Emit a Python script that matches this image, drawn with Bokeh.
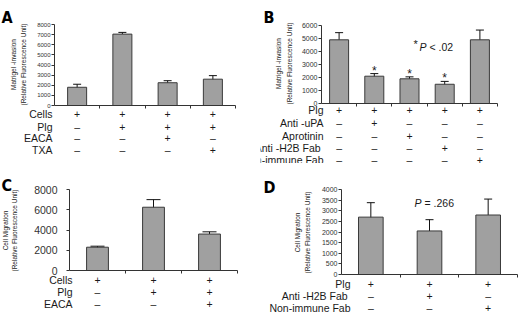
import math
from bokeh.plotting import figure
from bokeh.models import Range1d, FixedTicker, ColumnDataSource, Whisker, TeeHead
from bokeh.layouts import column, row
from bokeh.embed import file_html
from bokeh.resources import INLINE
from bokeh.core.properties import value

# ---------------- data ----------------
# Panel A: Matrigel invasion
a_values = [1800, 7050, 2250, 2600]
a_lower = [1500, 6880, 2080, 2300]
a_upper = [2100, 7220, 2450, 2950]
a_rows = ["Cells", "Plg", "EACA", "TXA"]
a_signs = [["+", "+", "+", "+"],
           ["–", "+", "+", "+"],
           ["–", "–", "+", "–"],
           ["–", "–", "–", "+"]]

# Panel B: Matrigel invasion with inhibitors
b_values = [4900, 2100, 1900, 1480, 4900]
b_lower = [4350, 1950, 1750, 1250, 4200]
b_upper = [5450, 2300, 2050, 1700, 5650]
b_star = ["", "*", "*", "*", ""]
b_rows = ["Plg", "Anti -uPA", "Aprotinin", "Anti -H2B  Fab", "Non-immune Fab"]
b_signs = [["+", "+", "+", "+", "+"],
           ["–", "+", "–", "–", "–"],
           ["–", "–", "+", "–", "–"],
           ["–", "–", "–", "+", "–"],
           ["–", "–", "–", "–", "+"]]

# Panel C: Cell migration
c_values = [2300, 6250, 3600]
c_lower = [2200, 5500, 3380]
c_upper = [2400, 7000, 3820]
c_rows = ["Cells", "Plg", "EACA"]
c_signs = [["+", "+", "+"],
           ["–", "+", "+"],
           ["–", "–", "+"]]

# Panel D: Cell migration with Fab
d_values = [2700, 2050, 2800]
d_lower = [2020, 1500, 2050]
d_upper = [3380, 2580, 3550]
d_rows = ["Plg", "Anti -H2B  Fab", "Non-immune Fab"]
d_signs = [["+", "+", "+"],
           ["–", "+", "–"],
           ["–", "–", "+"]]

FONT = "Liberation Sans"
LETTER_FONT = "DejaVu Sans Condensed"
BAR_FILL = "#a0a0a0"
BAR_LINE = "#3a3a3a"
TXT = "#1a1a1a"
AX = "#333333"


class Panel:
    def __init__(self, W, H, L, R, T, B, n, ymax):
        self.W, self.H, self.L, self.R, self.T, self.B = W, H, L, R, T, B
        self.n, self.ymax = n, ymax

    def x(self, px):
        return (px - self.L) * self.n / (self.R - self.L)

    def y(self, py):
        return (self.B - py) * self.ymax / (self.B - self.T)


def make_panel(geom, values, lower, upper, ystep, ytick_size, standoff,
               bar_w, cap, rows, signs, row_ys, row_x, row_size,
               titles, title_xs, title_y, title_size, letter, letter_xy):
    g = geom
    n = len(values)
    p = figure(width=g.W, height=g.H,
               x_range=Range1d(g.x(0), g.x(g.W)), y_range=Range1d(g.y(g.H), g.y(0)),
               output_backend="svg", toolbar_location=None,
               min_border=0, min_border_left=0, min_border_right=0,
               min_border_top=0, min_border_bottom=0,
               background_fill_color="white", border_fill_color="white",
               outline_line_color=None)
    p.grid.visible = False

    # axes drawn at data zero, limited to the data extent
    xa = p.xaxis[0]
    xa.fixed_location = 0
    xa.bounds = (0, n)
    xa.ticker = FixedTicker(ticks=list(range(1, n + 1)))
    xa.major_label_overrides = {i: " " for i in range(1, n + 1)}
    xa.major_tick_in = 0
    xa.major_tick_out = 3
    xa.minor_tick_line_color = None
    xa.axis_line_color = AX
    xa.major_tick_line_color = AX

    ya = p.yaxis[0]
    ya.fixed_location = 0
    ya.bounds = (0, g.ymax)
    ya.ticker = FixedTicker(ticks=list(range(0, g.ymax + 1, ystep)))
    ya.major_label_text_font_size = f"{ytick_size}px"
    ya.major_label_text_font = FONT
    ya.major_label_text_color = AX
    ya.major_label_standoff = standoff
    ya.major_tick_in = 0
    ya.major_tick_out = 3
    ya.minor_tick_line_color = None
    ya.axis_line_color = AX
    ya.major_tick_line_color = AX

    xs = [i + 0.5 for i in range(n)]
    p.vbar(x=xs, top=values, bottom=0, width=bar_w,
           fill_color=BAR_FILL, line_color=BAR_LINE, line_width=1)

    src = ColumnDataSource(dict(x=xs, lo=lower, hi=upper))
    p.add_layout(Whisker(base="x", lower="lo", upper="hi", source=src,
                         line_color="#111111", line_width=1,
                         upper_head=TeeHead(size=cap, line_color="#111111", line_width=1),
                         lower_head=TeeHead(size=cap, line_color="#111111", line_width=1)))

    # condition table below the axis
    p.text(x=[g.x(row_x)] * len(rows), y=[g.y(ry) for ry in row_ys], text=rows,
           text_align="right", text_baseline="middle", text_font=value(FONT),
           text_font_size=f"{row_size}px", text_color=TXT)
    for sg, ry in zip(signs, row_ys):
        p.text(x=xs, y=[g.y(ry)] * n, text=sg, text_align="center",
               text_baseline="middle", text_font=value(FONT),
               text_font_size=f"{row_size}px", text_color=TXT)

    # rotated y titles
    p.text(x=[g.x(tx) for tx in title_xs], y=[g.y(title_y)] * len(titles), text=titles,
           angle=math.pi / 2, text_align="center", text_baseline="middle",
           text_font=value(FONT), text_font_size=f"{title_size}px", text_color=TXT)

    # panel letter
    p.text(x=[g.x(letter_xy[0])], y=[g.y(letter_xy[1])], text=[letter],
           text_align="left", text_baseline="alphabetic",
           text_font=value(LETTER_FONT), text_font_style="bold",
           text_font_size="16px", text_color="#000000")
    return p, xs


def note(p, g, px, py, txt, size, style="normal", baseline="alphabetic"):
    p.text(x=[g.x(px)], y=[g.y(py)], text=[txt], text_align="left",
           text_baseline=baseline, text_font=value(FONT), text_font_style=style,
           text_font_size=f"{size}px", text_color=TXT)


titles_inv = ["Matrigel -invasion", "(Relative Fluorescence Unit)"]
titles_mig = ["Cell Migration", "(Relative Fluorescence Unit)"]

ga = Panel(260, 163, 54, 235, 24, 105, len(a_values), 8000)
pa, _ = make_panel(ga, a_values, a_lower, a_upper, 1000, 6, 1,
                   0.42, 8, a_rows, a_signs, [113, 126, 137, 149], 52, 10.5,
                   titles_inv, [13, 23], 64, 6.5, "A", (1, 17))

gb = Panel(260, 163, 61, 237, 25, 103, len(b_values), 6000)
pb, bxs = make_panel(gb, b_values, b_lower, b_upper, 1000, 7, 1,
                     0.54, 8, b_rows, b_signs, [109, 122, 135, 147, 159], 63, 10.5,
                     titles_inv, [18, 29], 63, 6.5, "B", (3, 17))
pb.text(x=bxs, y=b_upper, text=b_star, y_offset=-3, text_align="center",
        text_baseline="alphabetic", text_font=value(FONT), text_font_size="12px",
        text_color=TXT)
note(pb, gb, 153, 43, "*", 11, baseline="middle")
note(pb, gb, 159, 46, "P", 10.5, style="italic")
note(pb, gb, 169, 46, "< .02", 10.5)

gc = Panel(260, 150, 69, 237, 26, 107, len(c_values), 8000)
pc, _ = make_panel(gc, c_values, c_lower, c_upper, 2000, 10.5, 9,
                   0.39, 14, c_rows, c_signs, [116, 128, 140], 72, 10.5,
                   titles_mig, [5, 14], 67, 6.5, "C", (1, 22))

gd = Panel(260, 150, 81, 257, 26, 111, len(d_values), 4000)
pd_, _ = make_panel(gd, d_values, d_lower, d_upper, 500, 7, 1,
                    0.42, 8, d_rows, d_signs, [120, 132, 144], 90, 10.5,
                    titles_mig, [37, 47], 69, 6.5, "D", (3, 24))
note(pd_, gd, 154, 39, "P", 10.5, style="italic")
note(pd_, gd, 164, 39, "= .266", 10.5)

layout = column(row(pa, pb), row(pc, pd_))
open("out.html", "w").write(file_html(layout, INLINE))
